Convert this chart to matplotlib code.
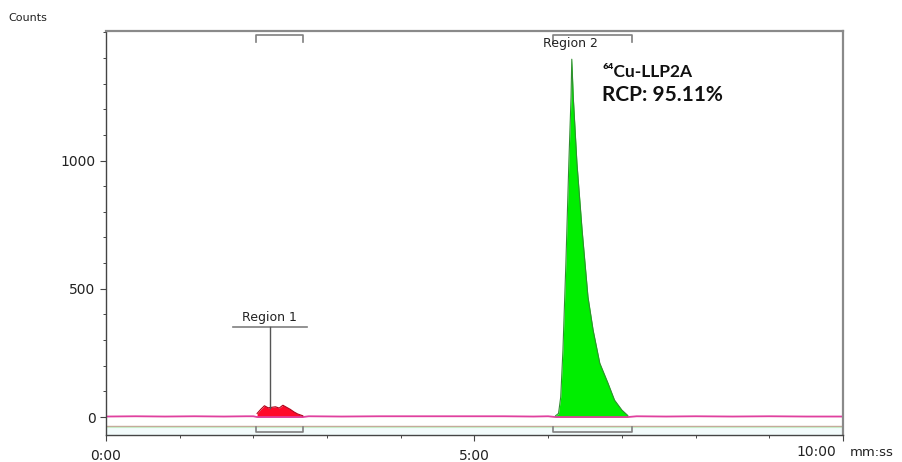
import matplotlib
matplotlib.use("Agg")
import matplotlib.pyplot as plt
from matplotlib.ticker import MultipleLocator, FixedLocator

# ---- data (time in minutes, counts) ----
times = [0.0, 0.4, 0.8, 1.2, 1.6, 1.9, 2.0, 2.05, 2.1, 2.15, 2.2, 2.25, 2.3, 2.35,
         2.4, 2.45, 2.5, 2.55, 2.6, 2.67, 2.75, 3.2, 3.7, 4.2, 4.5, 4.7, 4.9, 5.1,
         5.4, 5.8, 6.0, 6.1, 6.14, 6.17, 6.2, 6.24, 6.28, 6.31, 6.32, 6.34, 6.39,
         6.46, 6.54, 6.61, 6.7, 6.81, 6.9, 7.0, 7.08, 7.2, 7.6, 8.0, 8.5, 9.0, 9.5, 10.0]
counts = [2, 3, 2, 3, 2, 4, 6, 14, 30, 44, 36, 38, 40, 35,
          46, 38, 30, 20, 12, 5, 3, 2, 3, 3, 6, 8, 6, 4,
          3, 2, 3, 5, 14, 78, 261, 600, 990, 1248, 1395, 1248, 990,
          729, 468, 338, 210, 133, 66, 27, 6, 3, 2, 3, 2, 3, 2, 2]

region_names = ["Region 1", "Region 2"]
region_start = [2.03, 6.07]
region_end = [2.67, 7.14]
region_colors = ["#ff0a2a", "#00ee00"]
region_edges = ["#b00018", "#2f8f2f"]

y_ticks = [0, 500, 1000]
x_ticks = [0, 5, 10]
x_tick_labels = ["0:00", "5:00", ""]

label_line = "\u2076\u2074Cu-LLP2A"
label_rcp = "RCP: 95.11%"

# ---- figure ----
fig = plt.figure(figsize=(9.03, 4.62), dpi=100)
ax = fig.add_axes([106/903, 27/462, (843-106)/903, (435-31)/462])
ax.set_xlim(0, 10)
ax.set_ylim(-70, 1505)

# lower band
ax.axhspan(-70, -38, color="#f2fbfb", zorder=0)
ax.axhline(-35, color="#c4a898", lw=1.0, zorder=1)
ax.axhline(-40, color="#c8ecc8", lw=0.8, zorder=1)

# region fills
for s, e, c, ec in zip(region_start, region_end, region_colors, region_edges):
    seg_t = [t for t in times if s <= t <= e]
    seg_c = [v for t, v in zip(times, counts) if s <= t <= e]
    ax.fill_between(seg_t, 0, seg_c, color=c, zorder=2, lw=0)
    ax.plot(seg_t, seg_c, color=ec, lw=0.8, zorder=3)

# baseline trace
ax.plot(times, [min(v, 3) if not any(s <= t <= e for s, e in zip(region_start, region_end)) else 0
                for t, v in zip(times, counts)],
        color="#e0409f", lw=1.3, zorder=2)

# region brackets top & bottom
gray = "#7f7f7f"
for s, e in zip(region_start, region_end):
    ax.plot([s, s, e, e], [1462, 1490, 1490, 1462], color=gray, lw=1.2, zorder=4, clip_on=False)
    ax.plot([s, s, e, e], [-39, -58, -58, -39], color=gray, lw=1.2, zorder=4)

# Region 1 label
ax.plot([1.72, 2.73], [351, 351], color=gray, lw=1.2, zorder=4)
ax.plot([2.22, 2.22], [351, 36], color="#555555", lw=1.0, zorder=4)
ax.text(2.22, 362, region_names[0], ha="center", va="bottom", fontsize=9, color="#222222",
        family="DejaVu Sans")
# Region 2 label
ax.text(6.30, 1455, region_names[1], ha="center", va="center", fontsize=9, color="#222222",
        family="DejaVu Sans", zorder=5)

# annotations
ax.text(6.73, 1345, label_line, ha="left", va="center", fontsize=12.5, fontweight="bold",
        family="Lato", color="#111111")
ax.text(6.73, 1255, label_rcp, ha="left", va="center", fontsize=15, fontweight="bold",
        family="Lato", color="#111111")

# axes styling
for side in ["top", "right"]:
    ax.spines[side].set_color("#8a8a8a")
    ax.spines[side].set_linewidth(1.6)
for side in ["left", "bottom"]:
    ax.spines[side].set_color("#444444")
    ax.spines[side].set_linewidth(1.0)

ax.yaxis.set_major_locator(FixedLocator(y_ticks))
ax.yaxis.set_minor_locator(MultipleLocator(100))
ax.xaxis.set_major_locator(FixedLocator(x_ticks))
ax.xaxis.set_minor_locator(MultipleLocator(1))
ax.set_xticklabels(x_tick_labels)
ax.tick_params(axis="both", which="major", direction="out", length=4, width=0.8,
               color="#444444", labelsize=10, labelcolor="#222222")
ax.tick_params(axis="both", which="minor", direction="out", length=2.5, width=0.7,
               color="#444444")
ax.tick_params(axis="x", pad=6)

fig.text(816/903, 1 - 452/462, "10:00", ha="center", va="center", fontsize=10, color="#222222")
fig.text(872/903, 1 - 452/462, "mm:ss", ha="center", va="center", fontsize=9.5, color="#222222")
fig.text(8/903, 1 - 18/462, "Counts", ha="left", va="center", fontsize=8, color="#222222")

fig.savefig("out.png", dpi=100)
